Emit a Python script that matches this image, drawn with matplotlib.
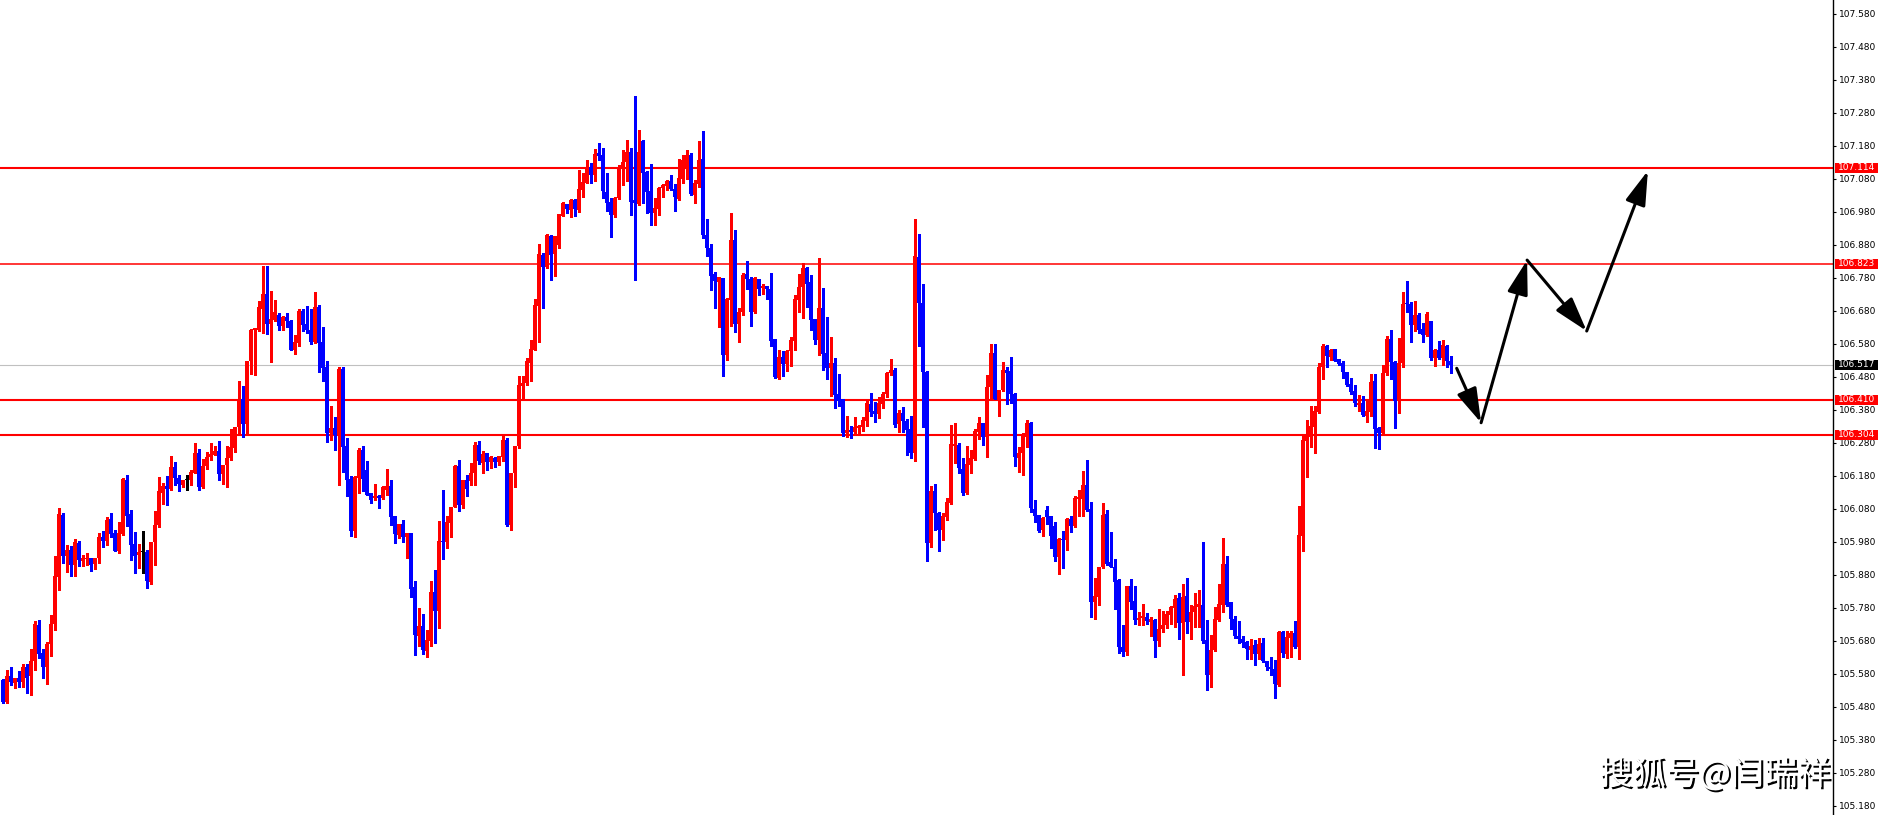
import matplotlib
matplotlib.use("Agg")
import matplotlib.pyplot as plt
import matplotlib.patheffects as pe
from matplotlib.patches import Rectangle

# H1 candles, oldest first
opens = [
    105.562, 105.496, 105.574, 105.551, 105.567, 105.554, 105.602, 105.572, 105.619, 105.727,
    105.644, 105.602, 105.671, 105.731, 105.872, 106.062, 105.938, 105.955, 105.910, 105.976,
    105.923, 105.929, 105.931, 105.913, 105.930, 105.996, 105.984, 106.049, 106.008, 105.953,
    106.004, 106.168, 106.065, 105.974, 105.941, 105.948, 105.950, 105.857, 105.978, 106.030,
    106.129, 106.149, 106.139, 106.208, 106.173, 106.153, 106.167, 106.166, 106.190, 106.250,
    106.145, 106.210, 106.238, 106.243, 106.255, 106.186, 106.213, 106.234, 106.265, 106.327,
    106.414, 106.337, 106.529, 106.621, 106.623, 106.686, 106.732, 106.641, 106.653, 106.668,
    106.633, 106.661, 106.648, 106.562, 106.584, 106.680, 106.641, 106.623, 106.586, 106.691,
    106.586, 106.509, 106.309, 106.325, 106.303, 106.504, 106.271, 106.170, 106.012, 106.175,
    106.259, 106.198, 106.128, 106.113, 106.118, 106.112, 106.138, 106.150, 106.057, 106.001,
    106.035, 105.996, 106.006, 105.843, 105.695, 105.726, 105.648, 105.678, 105.827, 105.769,
    105.983, 105.978, 106.037, 106.087, 106.211, 106.092, 106.166, 106.163, 106.190, 106.274,
    106.219, 106.249, 106.221, 106.234, 106.223, 106.237, 106.289, 106.032, 106.188, 106.271,
    106.453, 106.461, 106.522, 106.562, 106.695, 106.850, 106.812, 106.907, 106.853, 106.880,
    106.968, 107.003, 106.986, 107.016, 106.986, 107.047, 107.069, 107.115, 107.092, 107.158,
    107.152, 107.040, 107.009, 106.971, 107.021, 107.115, 107.132, 107.162, 107.016, 107.004,
    107.196, 107.102, 107.042, 106.978, 106.990, 107.052, 107.059, 107.074, 107.050, 107.019,
    107.081, 107.112, 107.153, 107.032, 107.065, 107.140, 106.909, 106.870, 106.791, 106.769,
    106.779, 106.545, 106.713, 106.895, 106.641, 106.676, 106.792, 106.777, 106.676, 106.777,
    106.749, 106.754, 106.746, 106.594, 106.478, 106.539, 106.519, 106.559, 106.589, 106.713,
    106.751, 106.809, 106.769, 106.656, 106.592, 106.690, 106.551, 106.506, 106.521, 106.427,
    106.412, 106.309, 106.319, 106.314, 106.325, 106.329, 106.347, 106.398, 106.377, 106.367,
    106.398, 106.428, 106.491, 106.501, 106.337, 106.372, 106.346, 106.321, 106.250, 106.842,
    106.703, 106.496, 105.975, 106.134, 106.066, 106.016, 106.056, 106.097, 106.270, 106.275,
    106.200, 106.127, 106.213, 106.230, 106.312, 106.339, 106.297, 106.448, 106.553, 106.412,
    106.440, 106.501, 106.498, 106.428, 106.235, 106.248, 106.299, 106.341, 106.081, 106.061,
    106.016, 106.078, 106.058, 106.028, 105.933, 105.990, 105.987, 106.049, 106.028, 106.111,
    106.111, 106.152, 106.081, 105.798, 105.814, 105.905, 106.063, 105.919, 105.905, 105.864,
    105.662, 105.647, 105.847, 105.800, 105.743, 105.750, 105.753, 105.738, 105.743, 105.680,
    105.715, 105.728, 105.758, 105.780, 105.809, 105.735, 105.816, 105.738, 105.768, 105.783,
    105.788, 105.682, 105.576, 105.652, 105.743, 105.788, 105.913, 105.797, 105.746, 105.694,
    105.685, 105.675, 105.652, 105.667, 105.640, 105.672, 105.620, 105.602, 105.594, 105.546,
    105.708, 105.640, 105.690, 105.703, 105.660, 105.999, 106.287, 106.299, 106.329, 106.374,
    106.509, 106.573, 106.541, 106.563, 106.533, 106.523, 106.494, 106.458, 106.437, 106.394,
    106.402, 106.362, 106.374, 106.467, 106.324, 106.309, 106.491, 106.595, 106.526, 106.410,
    106.521, 106.701, 106.700, 106.637, 106.667, 106.624, 106.607, 106.649, 106.538, 106.561,
    106.538, 106.574, 106.529,
]
highs = [
    105.564, 105.590, 105.602, 105.567, 105.587, 105.609, 105.609, 105.655, 105.741, 105.743,
    105.655, 105.676, 105.759, 105.938, 106.084, 106.067, 105.969, 105.966, 105.988, 105.984,
    105.940, 105.945, 105.931, 105.931, 106.008, 106.013, 106.056, 106.067, 106.016, 106.040,
    106.173, 106.183, 106.077, 106.011, 105.972, 106.013, 105.955, 105.981, 106.074, 106.177,
    106.157, 106.180, 106.240, 106.222, 106.183, 106.168, 106.183, 106.198, 106.281, 106.261,
    106.230, 106.253, 106.279, 106.269, 106.286, 106.213, 106.269, 106.322, 106.327, 106.468,
    106.451, 106.529, 106.625, 106.628, 106.710, 106.817, 106.817, 106.739, 106.713, 106.675,
    106.666, 106.675, 106.651, 106.607, 106.685, 106.685, 106.695, 106.687, 106.736, 106.698,
    106.630, 106.529, 106.392, 106.358, 106.509, 106.509, 106.294, 106.181, 106.180, 106.264,
    106.271, 106.224, 106.128, 106.156, 106.123, 106.148, 106.201, 106.168, 106.057, 106.035,
    106.047, 106.006, 106.006, 105.860, 105.779, 105.762, 105.712, 105.862, 105.895, 106.044,
    106.136, 106.057, 106.087, 106.214, 106.227, 106.168, 106.183, 106.219, 106.284, 106.286,
    106.254, 106.249, 106.239, 106.237, 106.241, 106.301, 106.294, 106.190, 106.271, 106.483,
    106.483, 106.537, 106.592, 106.716, 106.883, 106.855, 106.913, 106.910, 106.907, 106.974,
    107.011, 107.003, 107.018, 107.018, 107.107, 107.097, 107.138, 107.127, 107.170, 107.188,
    107.173, 107.097, 107.021, 107.024, 107.122, 107.168, 107.198, 107.173, 107.330, 107.228,
    107.198, 107.105, 107.125, 107.023, 107.057, 107.065, 107.077, 107.092, 107.065, 107.140,
    107.153, 107.168, 107.158, 107.077, 107.195, 107.225, 106.958, 106.882, 106.799, 106.782,
    106.779, 106.718, 106.976, 106.925, 106.688, 106.794, 106.832, 106.784, 106.784, 106.777,
    106.762, 106.756, 106.794, 106.594, 106.562, 106.557, 106.562, 106.600, 106.728, 106.792,
    106.824, 106.814, 106.789, 106.656, 106.839, 106.748, 106.660, 106.602, 106.536, 106.489,
    106.412, 106.361, 106.332, 106.357, 106.334, 106.359, 106.407, 106.432, 106.405, 106.420,
    106.435, 106.496, 106.534, 106.508, 106.379, 106.390, 106.351, 106.361, 106.958, 106.913,
    106.763, 106.499, 106.150, 106.155, 106.071, 106.066, 106.112, 106.334, 106.339, 106.281,
    106.233, 106.270, 106.258, 106.322, 106.357, 106.341, 106.486, 106.580, 106.580, 106.440,
    106.524, 106.511, 106.541, 106.432, 106.268, 106.309, 106.349, 106.344, 106.107, 106.061,
    106.054, 106.088, 106.058, 106.039, 105.992, 106.013, 106.051, 106.058, 106.119, 106.137,
    106.194, 106.228, 106.102, 105.871, 105.905, 106.098, 106.076, 106.011, 105.928, 105.867,
    105.728, 105.847, 105.867, 105.847, 105.766, 105.791, 105.765, 105.753, 105.745, 105.776,
    105.770, 105.771, 105.786, 105.819, 105.824, 105.852, 105.871, 105.788, 105.824, 105.834,
    105.978, 105.743, 105.698, 105.783, 105.852, 105.992, 105.938, 105.799, 105.755, 105.740,
    105.694, 105.679, 105.684, 105.682, 105.689, 105.687, 105.620, 105.630, 105.622, 105.710,
    105.710, 105.710, 105.711, 105.740, 106.089, 106.304, 106.349, 106.392, 106.392, 106.523,
    106.579, 106.578, 106.566, 106.563, 106.533, 106.528, 106.496, 106.477, 106.455, 106.425,
    106.422, 106.407, 106.490, 106.488, 106.327, 106.516, 106.605, 106.622, 106.528, 106.597,
    106.738, 106.770, 106.708, 106.711, 106.674, 106.644, 106.677, 106.649, 106.563, 106.590,
    106.592, 106.577, 106.543,
]
lows = [
    105.491, 105.491, 105.546, 105.536, 105.539, 105.539, 105.521, 105.516, 105.590, 105.629,
    105.566, 105.549, 105.634, 105.713, 105.834, 105.917, 105.890, 105.877, 105.875, 105.908,
    105.908, 105.910, 105.893, 105.899, 105.915, 105.963, 105.971, 105.996, 105.953, 105.947,
    106.001, 106.028, 105.925, 105.887, 105.900, 105.887, 105.839, 105.852, 105.911, 106.026,
    106.095, 106.092, 106.137, 106.153, 106.135, 106.145, 106.137, 106.152, 106.188, 106.137,
    106.143, 106.201, 106.228, 106.243, 106.168, 106.155, 106.147, 106.228, 106.251, 106.306,
    106.299, 106.309, 106.490, 106.486, 106.620, 106.612, 106.610, 106.524, 106.648, 106.621,
    106.623, 106.631, 106.562, 106.550, 106.574, 106.620, 106.612, 106.579, 106.584, 106.496,
    106.466, 106.282, 106.289, 106.259, 106.153, 106.193, 106.118, 105.998, 105.994, 106.128,
    106.133, 106.123, 106.097, 106.107, 106.082, 106.110, 106.123, 106.032, 105.976, 105.991,
    105.978, 105.931, 105.812, 105.638, 105.663, 105.641, 105.631, 105.663, 105.673, 105.719,
    105.928, 105.961, 105.996, 106.087, 106.072, 106.082, 106.118, 106.153, 106.153, 106.217,
    106.190, 106.198, 106.203, 106.208, 106.213, 106.224, 106.029, 106.015, 106.146, 106.264,
    106.416, 106.456, 106.469, 106.562, 106.587, 106.690, 106.811, 106.774, 106.786, 106.872,
    106.968, 106.978, 106.964, 106.968, 106.981, 107.026, 107.067, 107.067, 107.075, 107.138,
    107.021, 106.984, 106.903, 106.964, 107.018, 107.062, 107.075, 106.971, 106.774, 107.001,
    107.006, 106.978, 106.939, 106.939, 106.971, 107.024, 107.047, 107.045, 106.984, 107.016,
    107.069, 107.079, 107.032, 107.008, 107.057, 106.900, 106.847, 106.742, 106.690, 106.630,
    106.484, 106.530, 106.633, 106.617, 106.587, 106.668, 106.746, 106.633, 106.673, 106.729,
    106.732, 106.717, 106.575, 106.478, 106.474, 106.483, 106.499, 106.514, 106.561, 106.678,
    106.657, 106.693, 106.622, 106.580, 106.546, 106.501, 106.473, 106.423, 106.387, 106.393,
    106.301, 106.297, 106.296, 106.309, 106.309, 106.316, 106.331, 106.362, 106.344, 106.354,
    106.385, 106.420, 106.486, 106.329, 106.314, 106.312, 106.243, 106.233, 106.226, 106.574,
    106.329, 105.923, 105.965, 106.016, 105.953, 105.985, 106.046, 106.095, 106.220, 106.188,
    106.122, 106.124, 106.190, 106.228, 106.292, 106.273, 106.238, 106.410, 106.412, 106.362,
    106.438, 106.398, 106.400, 106.211, 106.193, 106.182, 106.268, 106.069, 106.041, 106.010,
    105.999, 106.034, 105.960, 105.923, 105.884, 105.901, 105.955, 106.011, 106.026, 106.058,
    106.058, 106.074, 105.751, 105.745, 105.788, 105.902, 105.910, 105.903, 105.776, 105.642,
    105.634, 105.637, 105.776, 105.731, 105.728, 105.728, 105.731, 105.695, 105.632, 105.665,
    105.708, 105.720, 105.731, 105.721, 105.685, 105.576, 105.705, 105.685, 105.721, 105.723,
    105.674, 105.531, 105.541, 105.650, 105.740, 105.768, 105.785, 105.716, 105.687, 105.674,
    105.660, 105.624, 105.624, 105.608, 105.625, 105.617, 105.591, 105.575, 105.506, 105.543,
    105.632, 105.629, 105.632, 105.659, 105.624, 105.953, 106.177, 106.268, 106.250, 106.371,
    106.475, 106.509, 106.531, 106.529, 106.516, 106.478, 106.453, 106.427, 106.392, 106.376,
    106.361, 106.344, 106.362, 106.265, 106.261, 106.307, 106.485, 106.473, 106.326, 106.372,
    106.509, 106.677, 106.586, 106.620, 106.614, 106.586, 106.604, 106.531, 106.514, 106.533,
    106.516, 106.509, 106.491,
]
closes = [
    105.496, 105.574, 105.554, 105.567, 105.554, 105.602, 105.567, 105.619, 105.731, 105.640,
    105.602, 105.671, 105.731, 105.875, 106.065, 105.938, 105.955, 105.910, 105.978, 105.925,
    105.931, 105.931, 105.910, 105.931, 105.996, 105.984, 106.046, 106.004, 105.953, 106.008,
    106.170, 106.059, 105.971, 105.938, 105.949, 105.948, 105.860, 105.981, 106.032, 106.135,
    106.149, 106.141, 106.208, 106.172, 106.155, 106.168, 106.167, 106.193, 106.250, 106.145,
    106.210, 106.238, 106.246, 106.256, 106.186, 106.213, 106.234, 106.267, 106.327, 106.414,
    106.337, 106.529, 106.623, 106.628, 106.693, 106.732, 106.641, 106.655, 106.677, 106.635,
    106.663, 106.648, 106.562, 106.585, 106.680, 106.638, 106.623, 106.586, 106.691, 106.584,
    106.508, 106.309, 106.325, 106.303, 106.504, 106.267, 106.168, 106.012, 106.176, 106.259,
    106.170, 106.123, 106.107, 106.120, 106.113, 106.145, 106.150, 106.054, 106.004, 106.035,
    105.996, 106.006, 105.838, 105.698, 105.726, 105.651, 105.683, 105.827, 105.769, 105.983,
    105.978, 106.039, 106.087, 106.211, 106.092, 106.166, 106.140, 106.190, 106.274, 106.224,
    106.247, 106.221, 106.237, 106.221, 106.239, 106.289, 106.032, 106.190, 106.271, 106.456,
    106.461, 106.529, 106.564, 106.698, 106.853, 106.812, 106.910, 106.850, 106.907, 106.974,
    107.008, 106.989, 107.016, 106.989, 107.049, 107.070, 107.110, 107.092, 107.156, 107.150,
    107.042, 107.006, 106.971, 107.021, 107.115, 107.132, 107.162, 107.011, 107.006, 107.163,
    107.099, 107.039, 106.976, 106.993, 107.052, 107.062, 107.074, 107.049, 107.024, 107.082,
    107.138, 107.153, 107.034, 107.069, 107.138, 106.909, 106.870, 106.787, 106.772, 106.782,
    106.545, 106.716, 106.895, 106.641, 106.676, 106.789, 106.777, 106.676, 106.779, 106.747,
    106.754, 106.746, 106.589, 106.481, 106.539, 106.519, 106.559, 106.592, 106.716, 106.751,
    106.809, 106.763, 106.652, 106.592, 106.690, 106.549, 106.506, 106.521, 106.425, 106.408,
    106.309, 106.319, 106.312, 106.327, 106.331, 106.349, 106.400, 106.374, 106.367, 106.402,
    106.428, 106.492, 106.501, 106.334, 106.372, 106.346, 106.319, 106.250, 106.846, 106.705,
    106.496, 105.975, 106.134, 106.066, 106.016, 106.058, 106.100, 106.276, 106.276, 106.203,
    106.127, 106.215, 106.235, 106.317, 106.339, 106.297, 106.448, 106.553, 106.412, 106.440,
    106.501, 106.493, 106.427, 106.236, 106.248, 106.301, 106.339, 106.084, 106.059, 106.014,
    106.051, 106.056, 105.998, 105.935, 105.990, 105.985, 106.049, 106.028, 106.114, 106.115,
    106.152, 106.078, 105.798, 105.816, 105.905, 106.061, 105.913, 105.905, 105.859, 105.662,
    105.647, 105.847, 105.798, 105.743, 105.750, 105.755, 105.740, 105.746, 105.680, 105.716,
    105.728, 105.760, 105.783, 105.807, 105.735, 105.814, 105.736, 105.768, 105.785, 105.791,
    105.680, 105.576, 105.652, 105.746, 105.791, 105.913, 105.788, 105.746, 105.695, 105.685,
    105.674, 105.654, 105.665, 105.639, 105.670, 105.620, 105.600, 105.594, 105.548, 105.708,
    105.642, 105.693, 105.703, 105.660, 106.001, 106.289, 106.301, 106.331, 106.377, 106.511,
    106.573, 106.544, 106.561, 106.529, 106.518, 106.494, 106.455, 106.435, 106.400, 106.402,
    106.364, 106.376, 106.463, 106.322, 106.309, 106.493, 106.595, 106.526, 106.408, 106.521,
    106.701, 106.700, 106.637, 106.667, 106.622, 106.607, 106.670, 106.538, 106.561, 106.538,
    106.576, 106.529, 106.517,
]

# support / resistance levels and current bid
levels = [107.114, 106.823, 106.410, 106.304]
level_widths = [1.5, 1.1, 1.5, 1.5]
bid = 106.517

# hand-drawn forecast path (bar index, price)
path_x = [363.5, 369.6, 381.1, 396.0, 411.3]
path_y = [106.506, 106.341, 106.834, 106.619, 107.105]

ticks = [105.180, 105.280, 105.380, 105.480, 105.580, 105.680, 105.780, 105.880,
         105.980, 106.080, 106.180, 106.280, 106.380, 106.480, 106.580, 106.680,
         106.780, 106.880, 106.980, 107.080, 107.180, 107.280, 107.380, 107.480,
         107.580]

watermark = "搜狐号@闫瑞祥"

W, H = 1880, 815
fig = plt.figure(figsize=(W / 100, H / 100), dpi=100)
ax = fig.add_axes([0, 0, 1833 / W, 1])
ax.set_facecolor("white")

xs = list(range(len(opens)))
colors = []
for o, c in zip(opens, closes):
    if c > o:
        colors.append("#ff0000")
    elif c < o:
        colors.append("#0000ff")
    else:
        colors.append("black")

ax.vlines(xs, lows, highs, colors=colors, linewidth=0.8, antialiased=False, zorder=3)
bottoms = [min(o, c) for o, c in zip(opens, closes)]
heights = [max(abs(c - o), 0.003) for o, c in zip(opens, closes)]
ax.bar(xs, heights, bottom=bottoms, width=0.72, color=colors, linewidth=0,
       antialiased=False, zorder=3)

for lv, lw in zip(levels, level_widths):
    ax.axhline(lv, color="#ff0000", linewidth=lw, zorder=2)
ax.axhline(bid, color="#c0c0c0", linewidth=0.8, zorder=1)

for i in range(len(path_x) - 1):
    ax.annotate("", xy=(path_x[i + 1], path_y[i + 1]), xytext=(path_x[i], path_y[i]),
                arrowprops=dict(arrowstyle="-|>,head_length=0.6,head_width=0.18",
                                color="black", lw=2.2, mutation_scale=35,
                                shrinkA=0, shrinkB=0),
                zorder=5)

ax.set_xlim(-0.675, 457.575)
ax.set_ylim(107.6224 - H * 0.0030312, 107.6224)

ax.yaxis.tick_right()
ax.set_yticks(ticks)
ax.set_yticklabels([f"{t:.3f}" for t in ticks])
ax.tick_params(axis="y", direction="out", length=2.5, width=0.8, pad=2,
               labelsize=6.5, colors="black")
ax.set_xticks([])
for side in ["left", "top", "bottom"]:
    ax.spines[side].set_visible(False)
ax.spines["right"].set_linewidth(1.0)
ax.spines["right"].set_color("black")

# price tags on the axis
tr = ax.get_yaxis_transform()
box_h = 10 * 0.0030312
for lv, bg in [(l, "#ff0000") for l in levels] + [(bid, "black")]:
    ax.add_patch(Rectangle((1.0012, lv - box_h / 2), 0.0232, box_h, transform=tr,
                           facecolor=bg, edgecolor="none", clip_on=False, zorder=6))
    ax.text(1.0128, lv, f"{lv:.3f}", transform=tr, color="white", fontsize=6.5,
            ha="center", va="center", clip_on=False, zorder=7)

fig.text(1831 / W, 1 - 775 / H, watermark, fontsize=24,
         family=["Noto Sans CJK SC", "DejaVu Sans"], color="white",
         ha="right", va="center", zorder=10,
         path_effects=[pe.withSimplePatchShadow(offset=(1.5, -1.5),
                                                shadow_rgbFace="black", alpha=1.0)])

fig.savefig("out.png", dpi=100, facecolor="white")
